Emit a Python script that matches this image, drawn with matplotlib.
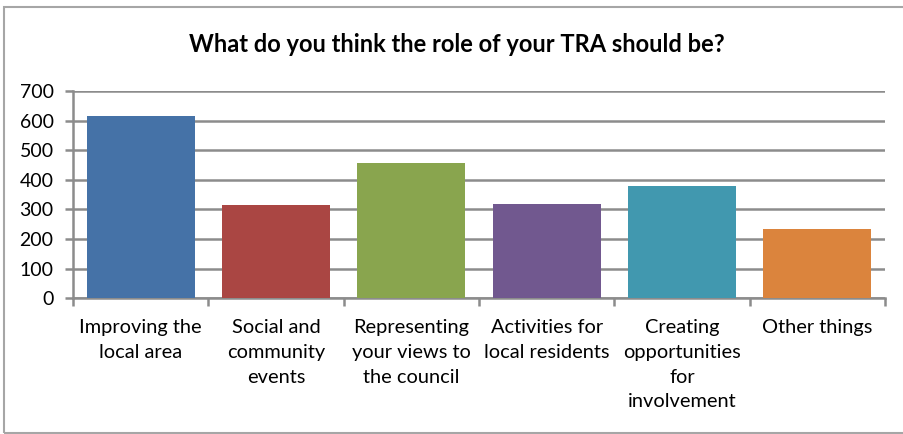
import matplotlib
matplotlib.use("Agg")
import matplotlib.pyplot as plt
from matplotlib.patches import Rectangle
import numpy as np

plt.rcParams['font.family'] = ['Lato', 'DejaVu Sans']

categories = [
    "Improving the\nlocal area",
    "Social and\ncommunity\nevents",
    "Representing\nyour views to\nthe council",
    "Activities for\nlocal residents",
    "Creating\nopportunities\nfor\ninvolvement",
    "Other things",
]
responses = [616, 315, 457, 319, 380, 234]
bar_colors = ["#4572A7", "#AA4643", "#89A54E", "#71588F", "#4198AF", "#DB843D"]
y_ticks = [0, 100, 200, 300, 400, 500, 600, 700]
title = "What do you think the role of your TRA should be?"

W, H = 904, 434
fig = plt.figure(figsize=(W / 100, H / 100), dpi=100)
fig.patch.set_facecolor("white")

# chart frame
fig.patches.append(Rectangle((4 / W, 1 / H), 1.2, (433 - 7) / H,
                             transform=fig.transFigure, fill=False,
                             edgecolor="#a6a6a6", linewidth=1.5, zorder=0))

ax = fig.add_axes([73 / W, (H - 298.3) / H, (885 - 73) / W, (298.3 - 91) / H])
x = np.arange(len(categories))
ax.bar(x, responses, width=0.8, color=bar_colors, zorder=3)

ax.set_xlim(-0.5, len(categories) - 0.5)
ax.set_ylim(0, 700)
ax.set_yticks(y_ticks)
ax.set_yticklabels([str(v) for v in y_ticks], fontsize=14, color="#000000")
ax.yaxis.grid(True, color="#8c8c8c", linewidth=1.8, zorder=0)
ax.set_axisbelow(True)

ax.set_xticks(x)
ax.set_xticklabels(categories, fontsize=14.4, color="#000000", linespacing=1.55)
ax.set_xticks(np.arange(-0.5, len(categories)), minor=True)
ax.tick_params(axis="x", which="major", length=0, pad=15)
ax.tick_params(axis="x", which="minor", length=6, width=1.8, color="#8c8c8c")
ax.tick_params(axis="y", which="major", length=6, width=1.8, color="#8c8c8c", pad=8)

for side in ("top", "right"):
    ax.spines[side].set_visible(False)
for side in ("left", "bottom"):
    ax.spines[side].set_color("#8c8c8c")
    ax.spines[side].set_linewidth(1.8)

fig.text(457 / W, 1 - 44 / H, title, ha="center", va="center",
         fontsize=17, fontweight="bold", color="#000000")

fig.savefig("out.png", dpi=100, facecolor="white")
